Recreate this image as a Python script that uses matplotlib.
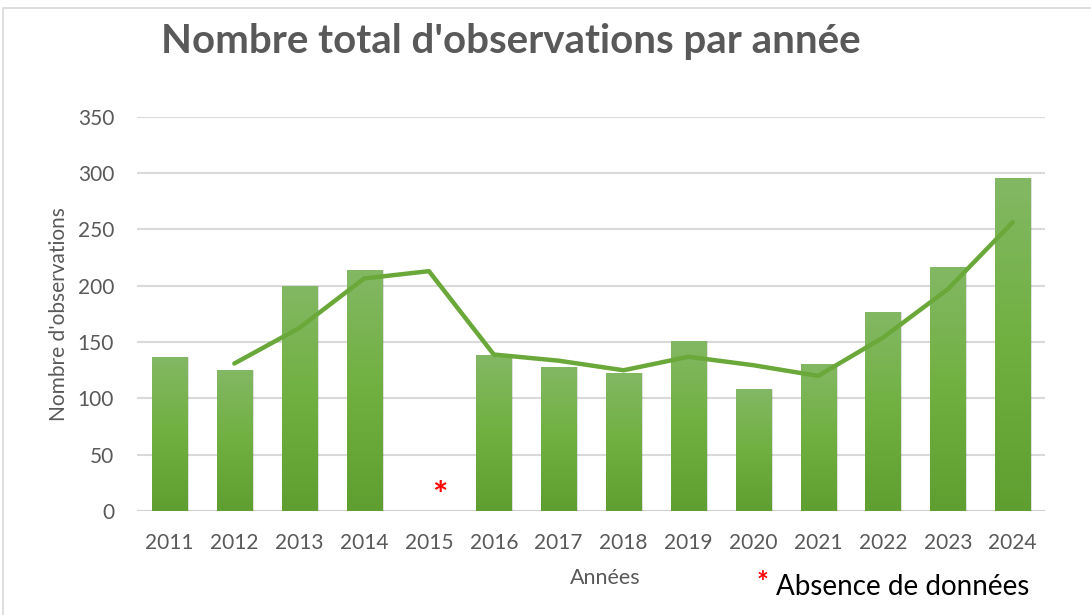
import matplotlib
matplotlib.use("Agg")
import matplotlib.pyplot as plt
import numpy as np
from matplotlib.patches import Rectangle

years = ["2011", "2012", "2013", "2014", "2015", "2016", "2017",
         "2018", "2019", "2020", "2021", "2022", "2023", "2024"]
observations = [137, 125, 200, 214, None, 139, 128,
                123, 151, 108, 131, 177, 217, 296]
# moving-average trend line (starts at 2012)
trend = [None, 131, 162.5, 206.5, 213, 139, 133.5,
         125, 137, 129.5, 120, 154, 197, 256.5]
yticks = [0, 50, 100, 150, 200, 250, 300, 350]

GREY = "#595959"
GREEN = "#6aa83a"
plt.rcParams["font.family"] = ["Lato", "DejaVu Sans"]

fig = plt.figure(figsize=(10.91, 6.15), dpi=100)
ax = fig.add_axes([0.1256, 0.169, 0.8324, 0.641])

# chart border
fig.patches.append(Rectangle((3 / 1091, -0.01), 1.0, 1 - 8 / 615 + 0.01,
                             transform=fig.transFigure, fill=False,
                             edgecolor="#d9d9d9", linewidth=1.2))

x = np.arange(len(years))
width = 0.54
grad = np.linspace(0, 1, 256).reshape(-1, 1)
cmap = matplotlib.colors.LinearSegmentedColormap.from_list(
    "g", ["#5f9f31", "#70b040", "#83b864"])
for i, v in enumerate(observations):
    if v is None:
        continue
    # faint shadow
    ax.add_patch(Rectangle((i - width / 2 + 0.03, 0), width, v,
                           facecolor="#000000", alpha=0.12,
                           edgecolor="none", zorder=2))
    bar = Rectangle((i - width / 2, 0), width, v, facecolor="none",
                    edgecolor="none", zorder=3)
    ax.add_patch(bar)
    im = ax.imshow(grad, extent=(i - width / 2, i + width / 2, 0, v),
                   origin="lower", cmap=cmap, aspect="auto", zorder=3)
    im.set_clip_path(bar)

tx = [i for i, t in enumerate(trend) if t is not None]
ty = [t for t in trend if t is not None]
ax.plot(tx, ty, color=GREEN, linewidth=3.2, solid_capstyle="round",
        solid_joinstyle="round", zorder=4)

# missing-data marker for 2015
ax.text(4.17, 13, "*", color="red", fontsize=26, fontweight="bold",
        ha="center", va="center", zorder=5)

ax.set_xlim(-0.5, len(years) - 0.5)
ax.set_ylim(0, 350)
ax.set_yticks(yticks)
ax.set_xticks(x)
ax.set_xticklabels(years)
ax.grid(axis="y", color="#d9d9d9", linewidth=1.5, zorder=0)
ax.set_axisbelow(True)
for s in ["top", "right", "left", "bottom"]:
    ax.spines[s].set_visible(False)
ax.axhline(0, color="#d0d0d0", linewidth=1.5, zorder=1)
ax.tick_params(length=0, labelsize=15, labelcolor=GREY, pad=16)
ax.tick_params(axis="y", pad=16.5)

ax.set_ylabel("Nombre d'observations", fontsize=15, color=GREY, labelpad=6)
fig.text(0.5545, 0.06, "Années", fontsize=15.5, color=GREY,
         ha="center", va="center")
fig.text(0.468, 0.932, "Nombre total d'observations par année",
         fontsize=29, fontweight="bold", color=GREY,
         ha="center", va="center")
fig.text(0.693, 0.052, "*", color="red", fontsize=20, fontweight="bold",
         ha="left", va="center")
fig.text(0.711, 0.045, "Absence de données", color="black", fontsize=20,
         ha="left", va="center")

fig.savefig("out.png", dpi=100, facecolor="white")
